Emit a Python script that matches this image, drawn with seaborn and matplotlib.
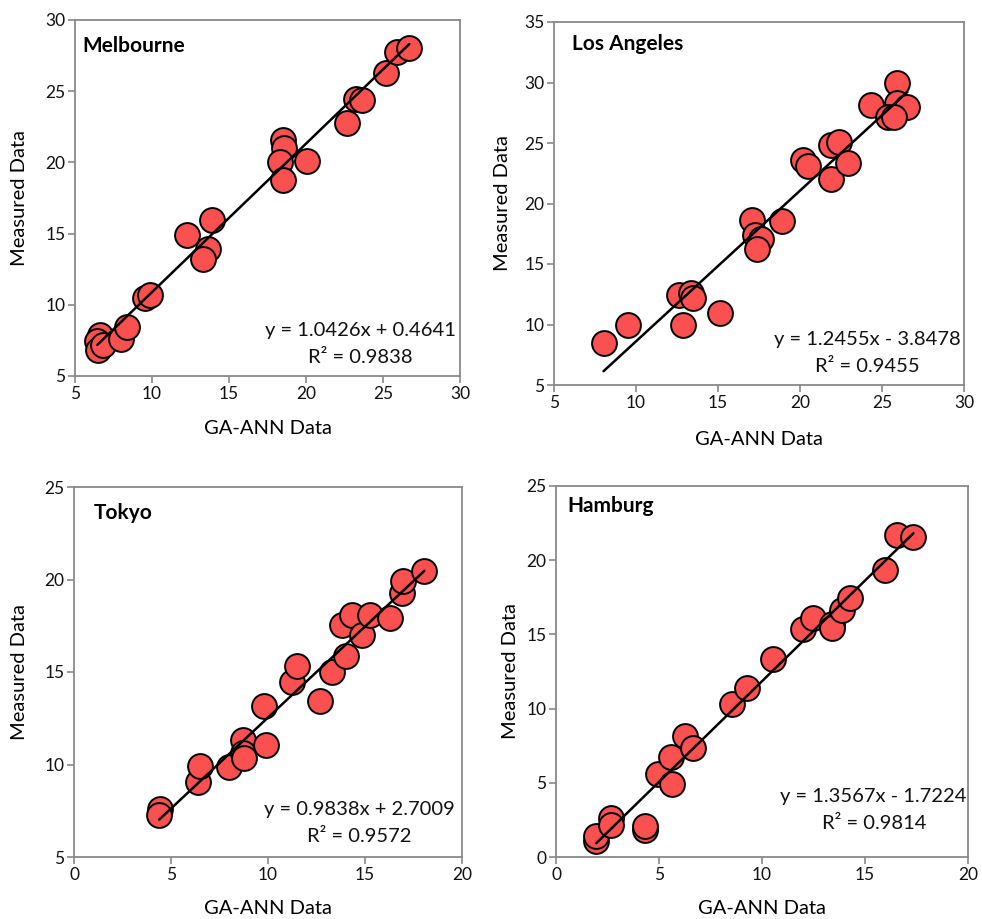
import numpy as np
import pandas as pd
import matplotlib
matplotlib.use("Agg")
import matplotlib.pyplot as plt
import seaborn as sns

# ---- data -------------------------------------------------------------
mel_x = [6.62, 6.45, 6.52, 6.80, 7.97, 8.35, 9.55, 9.87, 12.25, 13.92, 13.66, 13.33,
         18.53, 18.60, 18.29, 18.53, 20.04, 22.68, 23.23, 23.66, 25.20, 25.93, 26.71]
mel_y = [7.86, 7.44, 6.85, 7.15, 7.62, 8.44, 10.50, 10.67, 14.89, 15.99, 13.95, 13.25,
         21.57, 21.00, 20.04, 18.75, 20.10, 22.74, 24.42, 24.38, 26.30, 27.78, 28.06]

la_x = [8.02, 9.53, 12.65, 13.37, 13.47, 12.86, 15.14, 17.10, 17.24, 17.61, 17.35, 18.92,
        20.20, 20.47, 21.90, 22.35, 21.92, 22.92, 24.35, 25.94, 25.90, 26.55, 25.37, 25.71]
la_y = [8.43, 10.00, 12.42, 12.61, 12.23, 9.95, 10.96, 18.65, 17.36, 17.03, 16.21, 18.54,
        23.63, 23.08, 24.84, 25.05, 22.03, 23.35, 28.16, 30.00, 28.27, 27.94, 27.12, 27.17]

tok_x = [4.43, 4.39, 6.37, 6.52, 7.98, 8.72, 8.69, 8.77, 9.80, 9.92, 11.24, 11.50,
         12.67, 13.30, 13.79, 14.35, 14.01, 14.87, 15.24, 16.27, 16.91, 16.96, 18.06]
tok_y = [7.61, 7.25, 9.05, 9.90, 9.86, 11.31, 10.62, 10.37, 13.16, 11.07, 14.46, 15.31,
         13.43, 15.00, 17.54, 18.08, 15.86, 17.02, 18.10, 17.94, 19.29, 19.90, 20.44]

ham_x = [1.96, 1.96, 2.68, 2.68, 4.32, 4.32, 4.95, 5.64, 5.59, 6.27, 6.65, 8.53,
         9.29, 10.55, 12.00, 12.46, 13.41, 13.38, 13.86, 14.29, 15.97, 16.56, 17.35]
ham_y = [1.05, 1.43, 2.62, 2.17, 1.84, 2.10, 5.58, 4.91, 6.73, 8.12, 7.33, 10.31,
         11.37, 13.34, 15.34, 16.12, 15.70, 15.40, 16.64, 17.42, 19.37, 21.68, 21.57]

cities = ["Melbourne", "Los Angeles", "Tokyo", "Hamburg"]
slopes = [1.0426, 1.2455, 0.9838, 1.3567]
intercepts = [0.4641, -3.8478, 2.7009, -1.7224]
r_squared = ["0.9838", "0.9455", "0.9572", "0.9814"]
x_limits = [(5, 30), (5, 30), (0, 20), (0, 20)]
y_limits = [(5, 30), (5, 35), (5, 25), (0, 25)]

xs = [mel_x, la_x, tok_x, ham_x]
ys = [mel_y, la_y, tok_y, ham_y]

# ---- style ------------------------------------------------------------
sns.set_theme(style="white")
plt.rcParams["font.family"] = ["Lato", "DejaVu Sans"]

W, H = 982, 919
fig = plt.figure(figsize=(W / 100, H / 100), dpi=100)

# plot-area boxes in pixels: left, right, top, bottom
boxes = [(75, 460, 20, 376), (554, 964, 22, 385), (74, 462, 487, 857), (556, 968, 486, 857)]
title_pos = [(82, 46), (572, 44), (94, 513), (567, 506)]
eq_pos = [(456, 344), (961, 353), (455, 823), (967, 810)]
xlabel_pos = [(268, 428), (759, 439), (268, 908), (762, 908)]
ylabel_pos = [(20, 198), (502, 203), (20, 672), (510, 671)]

SPINE = "#898989"
FILL = "#FA5050"


def fx(px):
    return px / W


def fy(py):
    return 1 - py / H


for i, city in enumerate(cities):
    l, r, t, b = boxes[i]
    ax = fig.add_axes([fx(l), fy(b), (r - l) / W, (b - t) / H])
    df = pd.DataFrame({"x": xs[i], "y": ys[i]})

    sns.scatterplot(data=df, x="x", y="y", ax=ax, s=320, color=FILL,
                    edgecolor="black", linewidth=1.4, zorder=3, legend=False)

    # linear trendline across the data range
    xline = np.array([min(xs[i]), max(xs[i])])
    line_df = pd.DataFrame({"x": xline, "y": slopes[i] * xline + intercepts[i]})
    sns.lineplot(data=line_df, x="x", y="y", ax=ax, color="black", linewidth=1.8,
                 zorder=4, legend=False)

    ax.set_xlim(*x_limits[i])
    ax.set_ylim(*y_limits[i])
    ax.set_xticks(np.arange(x_limits[i][0], x_limits[i][1] + 1, 5))
    ax.set_yticks(np.arange(y_limits[i][0], y_limits[i][1] + 1, 5))
    ax.set_xlabel("")
    ax.set_ylabel("")
    for sp in ax.spines.values():
        sp.set_color(SPINE)
        sp.set_linewidth(1.3)
    ax.tick_params(axis="both", which="major", direction="out", length=5, width=1.2,
                   color=SPINE, labelsize=12.5, labelcolor="#111111", pad=2,
                   bottom=True, left=True)

    sign = "+" if intercepts[i] >= 0 else "-"
    eq = f"y = {slopes[i]:.4f}x {sign} {abs(intercepts[i]):.4f}\nR\u00b2 = {r_squared[i]}"
    fig.text(fx(eq_pos[i][0]), fy(eq_pos[i][1]), eq, ha="right", va="center",
             multialignment="center", fontsize=14.5, color="#111111", linespacing=1.65)

    fig.text(fx(title_pos[i][0]), fy(title_pos[i][1]), city, ha="left", va="center",
             fontsize=15, fontweight="bold", color="black")
    fig.text(fx(xlabel_pos[i][0]), fy(xlabel_pos[i][1]), "GA-ANN Data", ha="center",
             va="center", fontsize=14.5, color="black")
    fig.text(fx(ylabel_pos[i][0]), fy(ylabel_pos[i][1]), "Measured Data", ha="center",
             va="center", rotation=90, fontsize=14.5, color="black")

fig.savefig("out.png", dpi=100, facecolor="white")
